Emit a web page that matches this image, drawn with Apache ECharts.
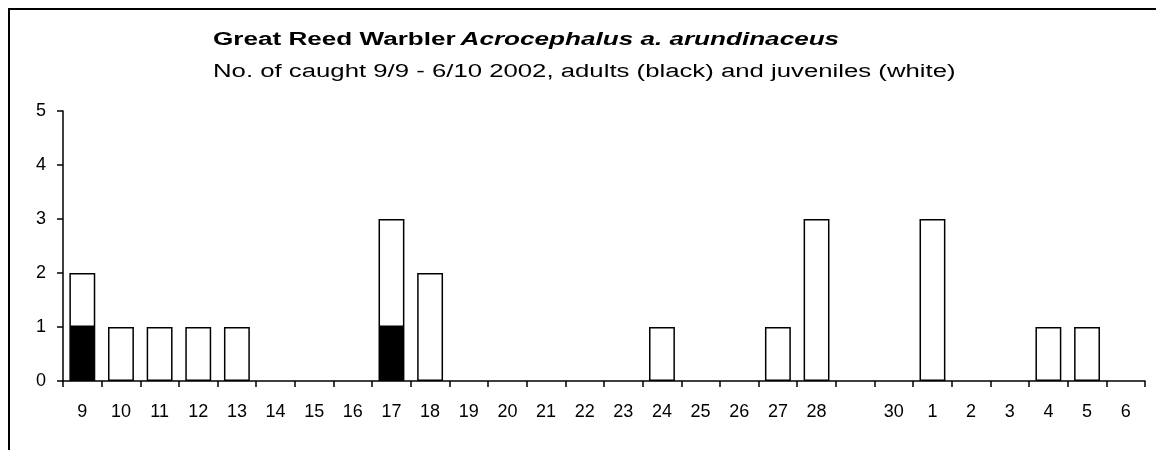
<!DOCTYPE html>
<html>
<head>
<meta charset="utf-8">
<script src="https://cdn.jsdelivr.net/npm/echarts@6/dist/echarts.min.js"></script>
<style>
  html, body { margin: 0; padding: 0; background: #fff; }
  #chart { width: 1156px; height: 450px; position: relative; }
  .frame { position: absolute; left: 8px; top: 8px; width: 1200px; height: 500px;
           border-top: 2px solid #000; border-left: 2px solid #000; pointer-events: none; }
</style>
</head>
<body>
<div id="chart"></div>
<div class="frame"></div>
<script>
// days 9/9 - 6/10, label for 29 is missing in the original
var days = ['9','10','11','12','13','14','15','16','17','18','19','20','21','22','23','24','25','26','27','28','','30','1','2','3','4','5','6']
var adults = [1,0,0,0,0,0,0,0,1,0,0,0,0,0,0,0,0,0,0,0,0,0,0,0,0,0,0,0]
var juveniles = [1,1,1,1,1,0,0,0,2,2,0,0,0,0,0,1,0,0,1,3,0,0,3,0,0,1,1,0]
var yTicks = [0,1,2,3,4,5]

var titleText = 'Great Reed Warbler'
var titleLatin = 'Acrocephalus a. arundinaceus'
var subText = 'No. of caught 9/9 - 6/10 2002, adults (black) and juveniles (white)'

var font = '"Liberation Sans", Arial, sans-serif'
// zero days are left empty so no flat bar is drawn
function skipZero(arr){ return arr.map(function(v){ return v === 0 ? '-' : v }) }

var myChart = echarts.init(document.getElementById('chart'))
myChart.setOption({
  animation: false,
  // the original heading is drawn wide, so it is stretched sideways
  graphic: [
    {
      type: 'text',
      x: 213, y: 40,
      scaleX: 1.45,
      style: {
        text: '{b|' + titleText + '} {bi|' + titleLatin + '}',
        verticalAlign: 'middle',
        rich: {
          b: { fontFamily: font, fontSize: 18, fontWeight: 'bold', fill: '#000' },
          bi: { fontFamily: font, fontSize: 18, fontWeight: 'bold', fontStyle: 'italic', fill: '#000' }
        }
      }
    },
    {
      type: 'text',
      x: 213, y: 72,
      scaleX: 1.43,
      style: {
        text: subText,
        fontFamily: font, fontSize: 18, fill: '#000',
        verticalAlign: 'middle'
      }
    }
  ],
  grid: { left: 63, right: 11, top: 111, bottom: 69 },
  xAxis: {
    type: 'category',
    data: days,
    boundaryGap: true,
    axisLine: { lineStyle: { color: '#000', width: 1.5 } },
    axisTick: { show: true, inside: false, length: 6, interval: 0, lineStyle: { color: '#000', width: 1.5 } },
    axisLabel: { interval: 0, margin: 22, color: '#000', fontFamily: font, fontSize: 18 }
  },
  yAxis: {
    type: 'value',
    min: yTicks[0],
    max: yTicks[yTicks.length - 1],
    interval: 1,
    splitLine: { show: false },
    axisLine: { show: true, lineStyle: { color: '#000', width: 1.5 } },
    axisTick: { show: true, inside: false, length: 6, lineStyle: { color: '#000', width: 1.5 } },
    axisLabel: { margin: 17, color: '#000', fontFamily: font, fontSize: 18 }
  },
  series: [
    {
      name: 'adults',
      type: 'bar',
      stack: 'caught',
      barCategoryGap: '33%',
      data: skipZero(adults),
      itemStyle: { color: '#000', borderColor: '#000', borderWidth: 1.5 }
    },
    {
      name: 'juveniles',
      type: 'bar',
      stack: 'caught',
      barCategoryGap: '33%',
      data: skipZero(juveniles),
      itemStyle: { color: '#fff', borderColor: '#000', borderWidth: 1.5 }
    }
  ]
})
</script>
</body>
</html>
